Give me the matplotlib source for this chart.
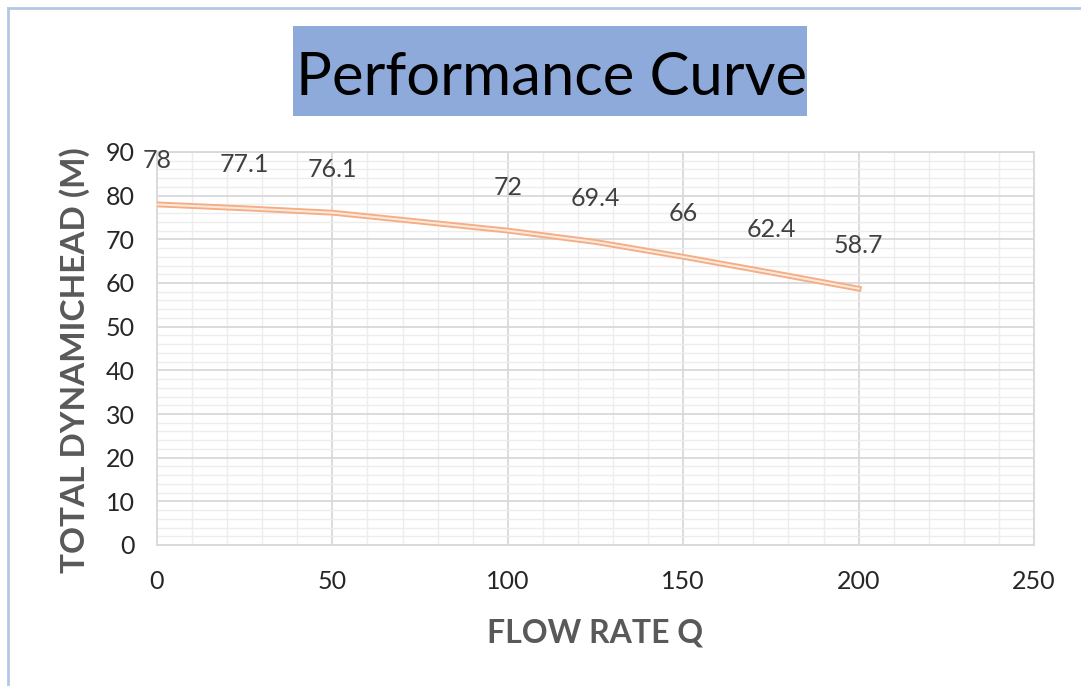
import matplotlib
matplotlib.use("Agg")
import matplotlib.pyplot as plt
from matplotlib.ticker import MultipleLocator
from matplotlib.patches import Rectangle
from matplotlib.lines import Line2D

flow_rate = [0, 25, 50, 100, 125, 150, 175, 200]
head = [78, 77.1, 76.1, 72, 69.4, 66, 62.4, 58.7]
labels = ["78", "77.1", "76.1", "72", "69.4", "66", "62.4", "58.7"]

plt.rcParams['font.family'] = ['Lato', 'DejaVu Sans']

fig = plt.figure(figsize=(10.81, 6.86), dpi=100)
ax = fig.add_axes([157/1081, 1-545/686, (1034-157)/1081, (545-152)/686])

ax.set_xlim(0, 250)
ax.set_ylim(0, 90)
ax.xaxis.set_major_locator(MultipleLocator(50))
ax.xaxis.set_minor_locator(MultipleLocator(10))
ax.yaxis.set_major_locator(MultipleLocator(10))
ax.yaxis.set_minor_locator(MultipleLocator(2))
ax.grid(which='major', color='#d9d9d9', lw=1.3)
ax.grid(which='minor', color='#ededed', lw=1.0)
ax.set_axisbelow(True)
for s in ax.spines.values():
    s.set_color('#d9d9d9')
    s.set_linewidth(1.3)
ax.tick_params(which='both', length=0)
ax.tick_params(axis='y', pad=16, labelsize=18, labelcolor='#262626')
ax.tick_params(axis='x', pad=18, labelsize=18, labelcolor='#262626')

ax.plot(flow_rate, head, color='#f4ad85', lw=4.2, solid_joinstyle='round', zorder=3)
ax.plot(flow_rate, head, color='#fde8da', lw=1.5, solid_joinstyle='round', zorder=4)

for x, y, t in zip(flow_rate, head, labels):
    ax.annotate(t, (x, y), xytext=(0, 23), textcoords='offset points',
                ha='center', va='bottom', fontsize=18, color='#404040',
                annotation_clip=False, zorder=5)

ax.set_xlabel('FLOW RATE Q', fontsize=23, fontweight='bold', color='#595959')
ax.xaxis.set_label_coords(0.5, -(633-545)/393, transform=ax.transAxes)
ax.xaxis.label.set_va('center')
ax.set_ylabel('TOTAL DYNAMICHEAD (M)', fontsize=24, fontweight='bold', color='#595959')
ax.yaxis.set_label_coords(-(157-75)/877, (545-360)/393)
ax.yaxis.label.set_va('center')

# title box
fig.patches.append(Rectangle((293/1081, 1-116/686), (807-293)/1081, (116-26)/686,
                             transform=fig.transFigure, facecolor='#8eaadb',
                             edgecolor='none', zorder=0))
fig.text(551/1081, 1-95/686, 'Performance Curve', ha='center', va='baseline',
         fontsize=43, color='#000000')

# chart border (left and top)
fig.lines.append(Line2D([8/1081, 8/1081], [0, 1-8/686], transform=fig.transFigure,
                        color='#b4c7e7', lw=2))
fig.lines.append(Line2D([8/1081, 1], [1-8/686, 1-8/686], transform=fig.transFigure,
                        color='#b4c7e7', lw=2))

fig.savefig('out.png', dpi=100)
